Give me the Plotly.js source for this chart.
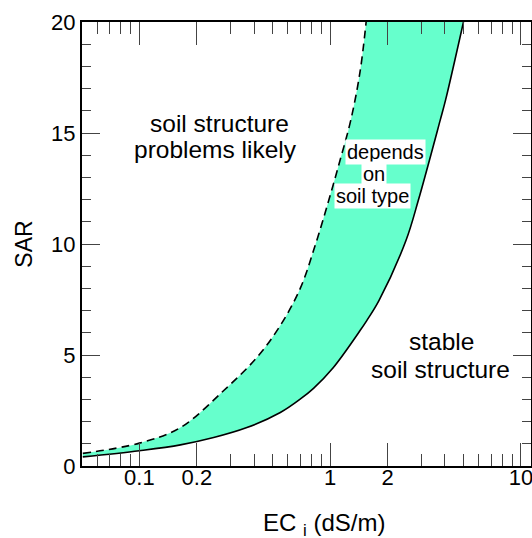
<!DOCTYPE html>
<html>
<head>
<meta charset="utf-8">
<script src="https://cdn.plot.ly/plotly-3.0.1.min.js"></script>
<style>html,body{margin:0;padding:0;background:#fff;}#chart{width:532px;height:538px;}</style>
</head>
<body>
<div id="chart"></div>
<script>
// Upper boundary (dashed): soil structure problems likely above
var upperEC  = [0.0505, 0.1, 0.164, 0.276, 0.413, 0.548, 0.697, 0.835, 0.982, 1.128, 1.284, 1.435, 1.544];
var upperSAR = [0.57, 1.03, 1.73, 3.39, 4.89, 6.33, 8.0, 9.94, 11.95, 13.78, 15.59, 17.76, 20];
// Lower boundary (solid): stable soil structure below
var lowerEC  = [0.0505, 0.1, 0.164, 0.245, 0.366, 0.548, 0.696, 0.818, 1.04, 1.435, 1.556, 1.805, 2.5, 2.9, 3.78, 4.03, 5.0];
var lowerSAR = [0.41, 0.69, 0.95, 1.28, 1.73, 2.41, 3.01, 3.5, 4.44, 6.1, 6.55, 7.46, 10.17, 11.97, 15.59, 16.49, 20];

var xTickVals = [0.1, 0.2, 1, 2, 10];
var xTickText = ['0.1', '0.2', '1', '2', '10'];
var xMinorVals = [0.06, 0.07, 0.08, 0.09, 0.3, 0.4, 0.5, 0.6, 0.7, 0.8, 0.9, 3, 4, 5, 6, 7, 8, 9];
var yTickVals = [0, 5, 10, 15, 20];

var FONT = 'Liberation Sans, Arial, Helvetica, sans-serif';

var traces = [
  {x: lowerEC, y: lowerSAR, type: 'scatter', mode: 'lines',
   line: {color: '#000', width: 1.6, shape: 'spline', smoothing: 1}, showlegend: false, hoverinfo: 'skip'},
  {x: upperEC, y: upperSAR, type: 'scatter', mode: 'lines', fill: 'tonexty', fillcolor: '#66FFCC',
   line: {color: '#000', width: 1.6, dash: '8px,5px', shape: 'spline', smoothing: 1}, showlegend: false, hoverinfo: 'skip'}
];

function lx(v) { return Math.log10(v); }

var layout = {
  width: 532, height: 538,
  margin: {l: 82, r: 1, t: 22, b: 72},
  paper_bgcolor: '#fff', plot_bgcolor: '#fff',
  font: {family: FONT, color: '#000', size: 22},
  showlegend: false,
  xaxis: {
    type: 'log', range: [lx(0.05), lx(11.3)],
    tickmode: 'array', tickvals: xTickVals, ticktext: xTickText,
    ticks: 'inside', ticklen: 23, tickwidth: 1, tickcolor: '#444',
    minor: {tickmode: 'array', tickvals: xMinorVals, ticks: 'inside', ticklen: 12, tickwidth: 1, tickcolor: '#444'},
    showline: true, linewidth: 2, linecolor: '#000', mirror: 'ticks',
    showgrid: false, zeroline: false,
    ticklabeloverflow: 'allow', ticklabelstandoff: -9,
    tickfont: {size: 22, family: FONT}
  },
  yaxis: {
    range: [0, 20],
    tickmode: 'array', tickvals: yTickVals,
    ticks: 'inside', ticklen: 18, tickwidth: 1, tickcolor: '#444',
    minor: {dtick: 1, ticks: 'inside', ticklen: 9, tickwidth: 1, tickcolor: '#444'},
    showline: true, linewidth: 2, linecolor: '#000', mirror: 'ticks',
    showgrid: false, zeroline: false,
    tickfont: {size: 22, family: FONT},
    title: {text: 'SAR', font: {size: 23, family: FONT}, standoff: 12}
  },
  annotations: [
    {x: 0.54, y: -0.093, xref: 'paper', yref: 'paper', yanchor: 'top', text: 'EC <sub>i</sub> (dS/m)',
     showarrow: false, font: {size: 24, family: FONT}},
    {x: lx(0.262), y: 15.45, xref: 'x', yref: 'y', text: 'soil structure',
     showarrow: false, font: {size: 24.5, family: FONT}},
    {x: lx(0.250), y: 14.25, xref: 'x', yref: 'y', text: 'problems likely',
     showarrow: false, font: {size: 24.5, family: FONT}},
    {x: lx(3.857), y: 5.6, xref: 'x', yref: 'y', text: 'stable',
     showarrow: false, font: {size: 24.5, family: FONT}},
    {x: lx(3.767), y: 4.33, xref: 'x', yref: 'y', text: 'soil structure',
     showarrow: false, font: {size: 24.5, family: FONT}},
    {x: lx(1.941), y: 14.16, xref: 'x', yref: 'y', text: 'depends',
     showarrow: false, font: {size: 20, family: FONT}, bgcolor: '#fff', borderpad: 1},
    {x: lx(1.694), y: 13.15, xref: 'x', yref: 'y', text: 'on',
     showarrow: false, font: {size: 20, family: FONT}, bgcolor: '#fff', borderpad: 1},
    {x: lx(1.675), y: 12.17, xref: 'x', yref: 'y', text: 'soil type',
     showarrow: false, font: {size: 20, family: FONT}, bgcolor: '#fff', borderpad: 1}
  ]
};

Plotly.newPlot('chart', traces, layout, {displayModeBar: false, staticPlot: true});
</script>
</body>
</html>
